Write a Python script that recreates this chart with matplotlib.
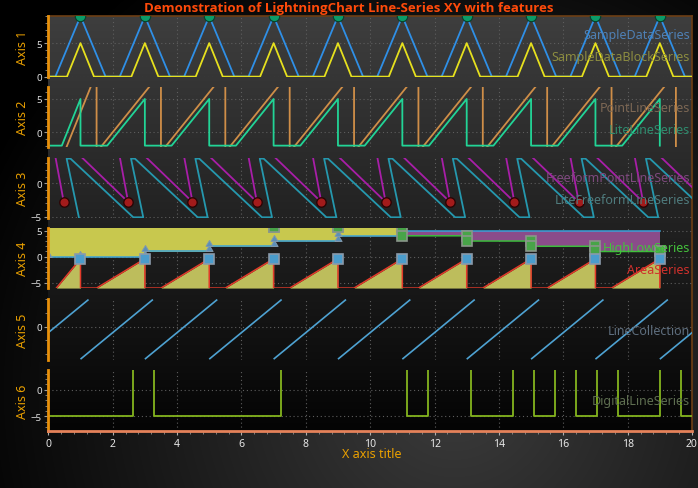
import numpy as np
import matplotlib
matplotlib.use('Agg')
import matplotlib.pyplot as plt
from matplotlib.path import Path
from matplotlib.collections import LineCollection
from matplotlib.ticker import MultipleLocator, FixedLocator

plt.rcParams['font.family'] = ['Noto Sans', 'DejaVu Sans']

# ---------------- data ----------------
# Axis 1
blue_x = [0, 0.22, 1, 1.78, 2.22, 3, 3.78, 4.22, 5, 5.78, 6.22, 7, 7.78, 8.22, 9, 9.78,
          10.22, 11, 11.78, 12.22, 13, 13.78, 14.22, 15, 15.78, 16.22, 17, 17.78, 18.22, 19, 19.78, 20]
blue_y = [0, 0, 9, 0, 0, 9, 0, 0, 9, 0, 0, 9, 0, 0, 9, 0,
          0, 9, 0, 0, 9, 0, 0, 9, 0, 0, 9, 0, 0, 9, 0, 0]
yellow_x = [0, 0.58, 1, 1.42, 2.58, 3, 3.42, 4.58, 5, 5.42, 6.58, 7, 7.42, 8.58, 9, 9.42,
            10.58, 11, 11.42, 12.58, 13, 13.42, 14.58, 15, 15.42, 16.58, 17, 17.42, 18.58, 19, 19.42, 20]
yellow_y = [0, 0, 5, 0, 0, 5, 0, 0, 5, 0, 0, 5, 0, 0, 5, 0,
            0, 5, 0, 0, 5, 0, 0, 5, 0, 0, 5, 0, 0, 5, 0, 0]
peak_x = [1, 3, 5, 7, 9, 11, 13, 15, 17, 19]
peak_y = [9, 9, 9, 9, 9, 9, 9, 9, 9, 9]

# Axis 2
lite_x = [0, 0.42, 1, 1, 1.83, 3, 3, 3.83, 5, 5, 5.83, 7, 7, 7.83, 9, 9, 9.83, 11, 11, 11.83,
          13, 13, 13.83, 15, 15, 15.83, 17, 17, 17.83, 19, 19]
lite_y = [-2, -2, 5, -2, -2, 5, -2, -2, 5, -2, -2, 5, -2, -2, 5, -2, -2, 5, -2, -2,
          5, -2, -2, 5, -2, -2, 5, -2, -2, 5, -2]
pl_x = [0.5, 1.5, 1.5, 3.5, 3.5, 5.5, 5.5, 7.5, 7.5, 9.5, 9.5, 11.5, 11.5, 13.5, 13.5,
        15.5, 15.5, 17.5, 17.5, 19.5, 19.5]
pl_y = [-3, 9, -3, 9, -3, 9, -3, 9, -3, 9, -3, 9, -3, 9, -3, 9, -3, 9, -3, 9, -3]

# Axis 3
teal_x = [0.95, 0.57, 0.69, 2.64, 2.95, 2.57, 2.69, 4.64, 4.95, 4.57, 4.69, 6.64,
          6.95, 6.57, 6.69, 8.64, 8.95, 8.57, 8.69, 10.64, 10.95, 10.57, 10.69, 12.64,
          12.95, 12.57, 12.69, 14.64, 14.95, 14.57, 14.69, 16.64, 16.95, 16.57, 16.69, 18.64,
          18.95, 18.57, 18.69, 20.64]
teal_y = [-5.1, 3.7, 3.7, -5.1, -5.1, 3.7, 3.7, -5.1, -5.1, 3.7, 3.7, -5.1,
          -5.1, 3.7, 3.7, -5.1, -5.1, 3.7, 3.7, -5.1, -5.1, 3.7, 3.7, -5.1,
          -5.1, 3.7, 3.7, -5.1, -5.1, 3.7, 3.7, -5.1, -5.1, 3.7, 3.7, -5.1,
          -5.1, 3.7, 3.7, -5.1]
mag_x = [0.48, 0.20, 0.91, 2.48, 2.20, 2.91, 4.48, 4.20, 4.91, 6.48, 6.20, 6.91, 8.48, 8.20, 8.91,
         10.48, 10.20, 10.91, 12.48, 12.20, 12.91, 14.48, 14.20, 14.91, 16.48, 16.20, 16.91,
         18.48, 18.20, 18.91, 20.48]
mag_y = [-2.8, 4.5, 4.5, -2.8, 4.5, 4.5, -2.8, 4.5, 4.5, -2.8, 4.5, 4.5, -2.8, 4.5, 4.5,
         -2.8, 4.5, 4.5, -2.8, 4.5, 4.5, -2.8, 4.5, 4.5, -2.8, 4.5, 4.5,
         -2.8, 4.5, 4.5, -2.8]
dot_x = [0.48, 2.48, 4.48, 6.48, 8.48, 10.48, 12.48, 14.48, 16.48, 18.48]
dot_y = [-2.8, -2.8, -2.8, -2.8, -2.8, -2.8, -2.8, -2.8, -2.8, -2.8]

# Axis 4
hl_x = [0, 1, 3, 3, 5, 5, 7, 7, 9, 9, 11, 11, 13, 13, 15, 15, 17, 17, 19]
hl_high = [6, 6, 6, 6, 6, 6, 5.7, 5.7, 5.7, 5.7, 5.7, 4, 4, 3, 3, 2, 2, 1, 1]
hl_low = [0, 0, 0, 1, 1, 2, 2, 3, 3, 4, 4, 4.9, 4.9, 4.9, 4.9, 4.9, 4.9, 4.9, 4.9]
area_x = [0.25, 1, 1, 1.5, 3, 3, 3.5, 5, 5, 5.5, 7, 7, 7.5, 9, 9, 9.5, 11, 11, 11.5,
          13, 13, 13.5, 15, 15, 15.5, 17, 17, 17.5, 19, 19]
area_y = [-6, -0.4, -6, -6, -0.4, -6, -6, -0.4, -6, -6, -0.4, -6, -6, -0.4, -6, -6, -0.4, -6, -6,
          -0.4, -6, -6, -0.4, -6, -6, -0.4, -6, -6, -0.4, -6]
area_pt_x = [1, 3, 5, 7, 9, 11, 13, 15, 17, 19]
area_pt_y = [-0.4, -0.4, -0.4, -0.4, -0.4, -0.4, -0.4, -0.4, -0.4, -0.4]

# Axis 5
lc_x0 = [-1, 1, 3, 5, 7, 9, 11, 13, 15, 17, 19]
lc_x1 = [1.25, 3.25, 5.25, 7.25, 9.25, 11.25, 13.25, 15.25, 17.25, 19.25, 21.25]
lc_y0 = [-5.9, -5.9, -5.9, -5.9, -5.9, -5.9, -5.9, -5.9, -5.9, -5.9, -5.9]
lc_y1 = [4.9, 4.9, 4.9, 4.9, 4.9, 4.9, 4.9, 4.9, 4.9, 4.9, 4.9]

# Axis 6
dig_x = [0, 2.64, 3.28, 7.22, 11.15, 11.80, 13.12, 14.44, 15.08, 15.73, 16.39, 17.05, 17.70, 19.02, 19.67, 20]
dig_y = [-5, 5, -5, 5, -5, 5, -5, 5, -5, 5, -5, 5, -5, 5, -5, -5]

x_ticks = [0, 2, 4, 6, 8, 10, 12, 14, 16, 18, 20]

# ---------------- layout ----------------
W, H = 698, 489
XL, XR = 48.3, 692.0


def rect(x0, x1, yt, yb):
    return [x0 / W, 1 - yb / H, (x1 - x0) / W, (yb - yt) / H]


fig = plt.figure(figsize=(W / 100, H / 100), dpi=100)
fig.patch.set_facecolor('black')

# figure background gradient
bg = fig.add_axes([0, 0, 1, 1])
bg.set_axis_off()
yy, xx = np.mgrid[0:H, 0:W]
d = np.hypot(xx - 454, yy - 391)
v = np.clip(1 - d / 520, 0, 1) * 60 / 255
bg.imshow(np.dstack([v, v, v]), aspect='auto', interpolation='bilinear')

# plot area background
pa = fig.add_axes(rect(XL, XR, 17.3, 431.7))
g = np.linspace(62, 4, 256)[:, None] / 255
pa.imshow(np.dstack([g, g, g]), aspect='auto', interpolation='bilinear')
pa.set_xticks([]); pa.set_yticks([])
for s in ['left', 'bottom']:
    pa.spines[s].set_visible(False)
for s in ['top', 'right']:
    pa.spines[s].set_color('#6e3f14')
    pa.spines[s].set_linewidth(1.2)

panels = [
    (17.3, 78.3, (-0.1, 9.0), [0, 5], 1),
    (88.3, 148.3, (-2.25, 6.75), [0, 5], 1),
    (159.3, 219.3, (-5.25, 3.75), [-5, 0], 1),
    (228.7, 288.7, (-5.93, 5.55), [-5, 0, 5], 1),
    (300.0, 360.7, (-6.0, 5.0), [0], 2.5),
    (371.0, 431.7, (-7.7, 3.7), [-5, 0], 1),
]

axes = []
for i, (yt, yb, ylim, yt_list, minor) in enumerate(panels):
    ax = fig.add_axes(rect(XL, XR, yt, yb))
    ax.set_facecolor('none')
    ax.set_xlim(0, 20)
    ax.set_ylim(*ylim)
    ax.set_axisbelow(True)
    ax.set_xticks(x_ticks)
    ax.set_yticks(yt_list)
    ax.yaxis.set_minor_locator(MultipleLocator(minor))
    ax.grid(True, which='major', color='#5e5e5e', linestyle=(0, (1, 2.5)), linewidth=0.8)
    for s in ['top', 'right', 'bottom']:
        ax.spines[s].set_visible(False)
    ax.spines['left'].set_color('#e8900a')
    ax.spines['left'].set_linewidth(2)
    ax.tick_params(axis='y', which='major', colors='#9a9a9a', labelcolor='#e0e0e0',
                   labelsize=7, length=3, width=0.8, pad=1.5)
    ax.tick_params(axis='y', which='minor', colors='#8a8a8a', length=2, width=0.6)
    if i < 5:
        ax.tick_params(axis='x', which='both', bottom=False, labelbottom=False)
    axes.append(ax)
    fig.text(23 / W, 1 - (yt + yb) / 2 / H, f'Axis {i + 1}', rotation=90, color='#eaa000',
             fontsize=9, ha='center', va='center')

ax1, ax2, ax3, ax4, ax5, ax6 = axes

# x axis on bottom panel
ax6.spines['bottom'].set_visible(True)
ax6.spines['bottom'].set_color('#e5825a')
ax6.spines['bottom'].set_linewidth(2)
ax6.xaxis.set_minor_locator(MultipleLocator(0.4))
ax6.tick_params(axis='x', which='major', colors='#b0b0b0', labelcolor='#e6e6e6',
                labelsize=7.5, length=3, width=0.8, pad=2)
ax6.tick_params(axis='x', which='minor', colors='#909090', length=2, width=0.6)
ax6.set_xticklabels([str(t) for t in x_ticks])

LW = 1.3
# Axis 1
ax1.plot(blue_x, blue_y, color='#2f8fe6', lw=LW)
ax1.plot(yellow_x, yellow_y, color='#e6e01e', lw=LW)
ax1.plot(peak_x, peak_y, 'o', ms=7.5, mfc='#0b9b68', mec='#05402a', mew=0.8)

# Axis 2
ax2.plot(pl_x, pl_y, color='#cf8e48', lw=LW)
ax2.plot(lite_x, lite_y, color='#22d496', lw=LW)

# Axis 3
ax3.plot(mag_x, mag_y, color='#a81ea8', lw=LW)
ax3.plot(teal_x, teal_y, color='#2598ae', lw=LW)
ax3.plot(dot_x, dot_y, 'o', ms=6.8, mfc='#a31b1b', mec='#2a0505', mew=1.0)

# Axis 4
hx = np.array(hl_x, float)
hh = np.array(hl_high, float)
hlw = np.array(hl_low, float)
ax4.fill_between(hx, hlw, hh, where=hh >= hlw, interpolate=True, color='#c8c84e', lw=0)
ax4.fill_between(hx, hlw, hh, where=hh < hlw, interpolate=True, color='#8a4c8a', lw=0)
ax4.plot(hl_x, hl_low, color='#3aa2d8', lw=1.1)
ax4.plot(hl_x, hl_high, color='#3cbc3c', lw=1.1)
ax4.fill_between(area_x, area_y, -6, color='#bdbd5c', lw=0)
ax4.plot(area_x, area_y, color='#e23a2a', lw=1.1)
tri = Path([(-0.6, 0), (0.6, 0), (0, 1.0), (-0.6, 0)])
ax4.plot(hl_x[:10], hl_low[:10], ls='none', marker=tri, ms=8.6, mfc='#5b8fb8', mec='#7f98ac', mew=0.7)
ax4.plot(hl_x[6:], hl_high[6:], ls='none', marker='s', ms=7.3, mfc='#48a448', mec='#8a968a', mew=1.2)
ax4.plot(area_pt_x, area_pt_y, ls='none', marker='s', ms=7.3, mfc='#4a9ccc', mec='#8a9aaa', mew=1.2)

# Axis 5
segs = [[(a, b), (c, e)] for a, b, c, e in zip(lc_x0, lc_y0, lc_x1, lc_y1)]
ax5.add_collection(LineCollection(segs, colors='#4ea2d2', linewidths=1.2))
ax5.set_yticks([0])
ax5.yaxis.set_minor_locator(FixedLocator([-5, -2.5, 2.5, 5]))

# Axis 6
ax6.plot(dig_x, dig_y, color='#84b41e', lw=LW, drawstyle='steps-post')

# series labels
labels = [
    ('SampleDataSeries', 35.0, '#4f80b4'),
    ('SampleDataBlockSeries', 57.3, '#8c8c40'),
    ('PointLineSeries', 108.3, '#7c6754'),
    ('LiteLineSeries', 130.0, '#2e8c6e'),
    ('FreeformPointLineSeries', 178.3, '#7e4a7e'),
    ('LiteFreeformLineSeries', 200.7, '#4f7b7d'),
    ('HighLowSeries', 249.0, '#44c23c'),
    ('AreaSeries', 270.7, '#d0302c'),
    ('LineCollection', 331.7, '#5e6e7e'),
    ('DigitalLineSeries', 401.7, '#5e6e50'),
]
for txt, y, c in labels:
    fig.text(690 / W, 1 - y / H, txt, color=c, fontsize=9, ha='right', va='center')

fig.text(349 / W, 1 - 8.5 / H, 'Demonstration of LightningChart Line-Series XY with features',
         color='#ff4a0a', fontsize=9.5, fontweight='bold', family=['Open Sans', 'DejaVu Sans'],
         ha='center', va='center')
fig.text(372 / W, 1 - 455 / H, 'X axis title', color='#eaa000', fontsize=9, ha='center', va='center')

fig.savefig('out.png', dpi=100, facecolor=fig.get_facecolor())
